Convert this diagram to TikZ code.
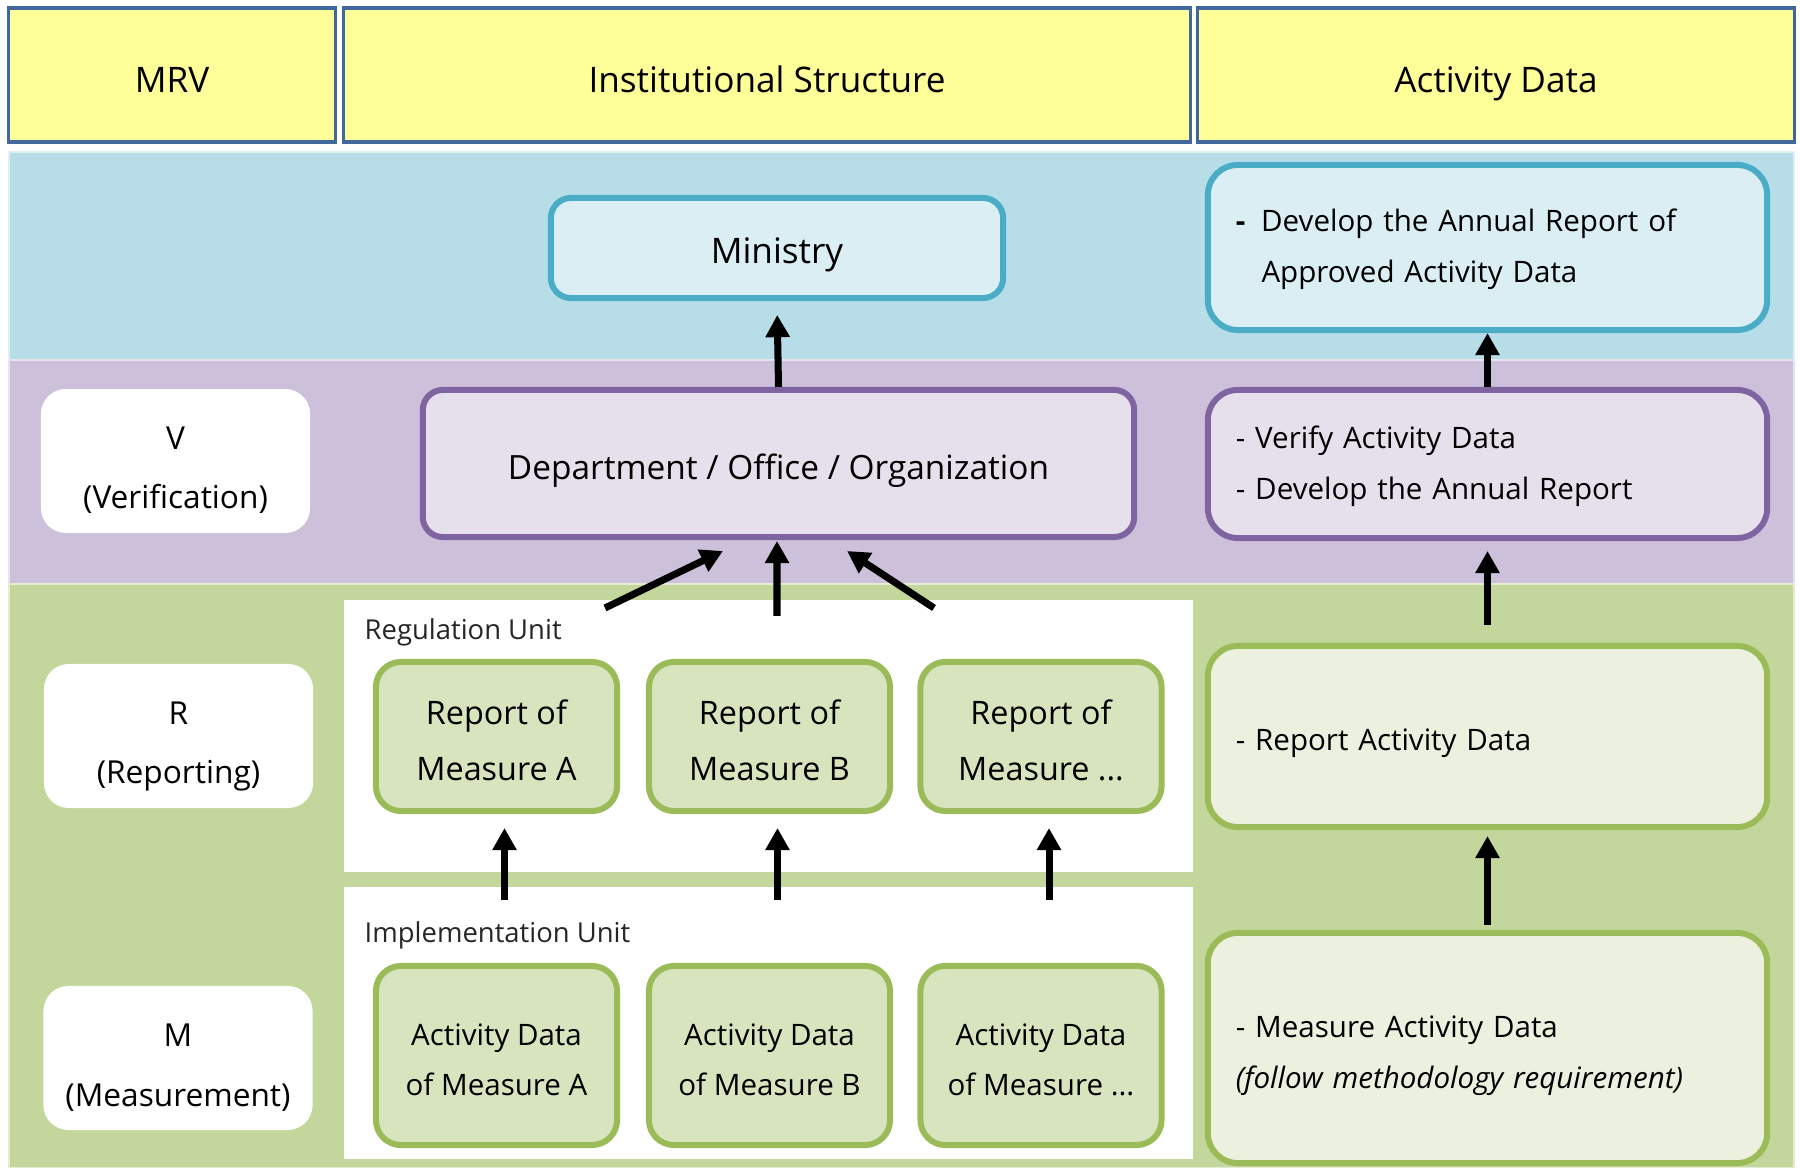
\documentclass[tikz,border=0pt]{standalone}
\usepackage{fontspec}
\setmainfont{Open Sans}
\usetikzlibrary{arrows.meta}

\definecolor{headyellow}{HTML}{FFFF99}
\definecolor{headblue}{HTML}{41689C}
\definecolor{bandblue}{HTML}{B7DDE8}
\definecolor{bandpurple}{HTML}{CCC0DA}
\definecolor{bandgreen}{HTML}{C3D69B}
\definecolor{minfill}{HTML}{DAEEF3}
\definecolor{minline}{HTML}{4BACC6}
\definecolor{deptfill}{HTML}{E5E0EC}
\definecolor{deptline}{HTML}{8064A2}
\definecolor{repfill}{HTML}{D7E4BD}
\definecolor{repline}{HTML}{9BBB59}
\definecolor{adfill}{HTML}{EBF1DE}

\tikzset{
  head/.style={draw=headblue, line width=0.9pt, fill=headyellow, minimum height=1.34cm,
    text height=10pt, text depth=0pt, font=\fontsize{10}{12}\selectfont},
  tag/.style={fill=white, rounded corners=0.25cm, minimum width=2.69cm, minimum height=1.44cm,
    align=center, text height=27.3pt, text depth=0pt, font=\fontsize{9}{16.8}\selectfont},
  bigbox/.style={rounded corners=0.2cm, line width=1.7pt, align=center,
    text height=9pt, text depth=0pt},
  panel/.style={fill=white, minimum width=8.49cm, minimum height=2.72cm},
  unitlbl/.style={anchor=west, inner sep=0pt, text=black!85, font=\fontsize{7.8}{10}\selectfont},
  repbox/.style={draw=repline, fill=repfill, line width=1.7pt, rounded corners=0.25cm,
    minimum width=2.41cm, align=center, text depth=0pt},
  adbox/.style={rounded corners=0.3cm, line width=1.7pt, minimum width=5.59cm,
    inner xsep=0.28cm, text width=5.03cm, align=left, font=\fontsize{8.4}{14.5}\selectfont},
  arr/.style={line width=2pt, -{Triangle[length=6.3pt,width=6.6pt]}}
}

\begin{document}
\begin{tikzpicture}[x=0.01cm, y=-0.01cm]
  \useasboundingbox (0,0) rectangle (1800,1168);

  % bands
  \filldraw[fill=bandblue, draw=white!55!bandblue, line width=0.8pt] (9,152) rectangle (1794,360);
  \filldraw[fill=bandpurple, draw=white!55!bandpurple, line width=0.8pt] (9,360) rectangle (1794,584);
  \filldraw[fill=bandgreen, draw=white!55!bandgreen, line width=0.8pt] (9,584) rectangle (1794,1168);

  % header row
  \node[head, minimum width=3.26cm] (mrv) at (172,75) {MRV};
  \node[head, minimum width=8.46cm] (inst) at (767,75) {Institutional Structure};
  \node[head, minimum width=5.96cm] (actd) at (1496,75) {Activity Data};

  % MRV column
  \node[tag] (ver) at (175.5,461) {V\\(Verification)};
  \node[tag] (rep) at (178.5,736) {R\\(Reporting)};
  \node[tag] (mea) at (178,1058) {M\\(Measurement)};

  % institutional structure
  \node[bigbox, draw=minline, fill=minfill, minimum width=4.52cm, minimum height=1cm,
    font=\fontsize{10}{12}\selectfont] (ministry) at (777,248) {Ministry};
  \node[bigbox, draw=deptline, fill=deptfill, minimum width=7.11cm, minimum height=1.47cm,
    font=\fontsize{9.5}{12}\selectfont] (dept) at (778.5,463.5) {Department / Office / Organization};

  \node[panel] (regpanel) at (768.5,736) {};
  \node[panel] (implpanel) at (768.5,1023) {};
  \node[unitlbl] (reglbl) at (364,632) {Regulation Unit};
  \node[unitlbl] (impllbl) at (364,935) {Implementation Unit};

  \node[repbox, minimum height=1.49cm, text height=25pt, font=\fontsize{9.2}{15.9}\selectfont] (repa) at (496.5,736.5) {Report of\\Measure A};
  \node[repbox, minimum height=1.49cm, text height=25pt, font=\fontsize{9.2}{15.9}\selectfont] (repb) at (769.5,736.5) {Report of\\Measure B};
  \node[repbox, minimum height=1.49cm, text height=25pt, font=\fontsize{9.2}{15.9}\selectfont] (repc) at (1041,736.5) {Report of\\Measure ...};
  \node[repbox, minimum height=1.79cm, text height=22.8pt, font=\fontsize{8.4}{14.2}\selectfont] (acta) at (496.5,1055.5) {Activity Data\\of Measure A};
  \node[repbox, minimum height=1.79cm, text height=22.8pt, font=\fontsize{8.4}{14.2}\selectfont] (actb) at (769.5,1055.5) {Activity Data\\of Measure B};
  \node[repbox, minimum height=1.79cm, text height=22.8pt, font=\fontsize{8.4}{14.2}\selectfont] (actc) at (1041,1055.5) {Activity Data\\of Measure ...};

  % activity data column
  \node[adbox, draw=minline, fill=minfill, minimum height=1.65cm, text height=6pt, text depth=15.1pt] (approved) at (1487.5,247.5)
    {\textbf{-}\hspace{4.5pt}Develop the Annual Report of\\\hspace*{7.3pt}Approved Activity Data};
  \node[adbox, draw=deptline, fill=deptfill, minimum height=1.48cm, text height=6pt, text depth=14.8pt] (verify) at (1487.5,464)
    {- Verify Activity Data\\- Develop the Annual Report};
  \node[adbox, draw=repline, fill=adfill, minimum height=1.81cm, text height=8pt, text depth=0pt] (reportad) at (1487.5,736.5)
    {- Report Activity Data};
  \node[adbox, draw=repline, fill=adfill, minimum height=2.3cm, text height=6pt, text depth=12pt] (measuread) at (1487.5,1048)
    {- Measure Activity Data\\\textit{(follow methodology requirement)}};

  % arrows
  \draw[arr, shorten >=0.14cm] (dept.north) -- (ministry.south);
  \coordinate (inL) at (605,608);
  \coordinate (inM) at (777,616);
  \coordinate (inR) at (934,608);
  \draw[arr] (inL) -- ([xshift=-0.555cm,yshift=-0.11cm]dept.south);
  \draw[arr] (inM) -- ([xshift=-0.015cm,yshift=-0.01cm]dept.south);
  \draw[arr] (inR) -- ([xshift=0.685cm,yshift=-0.11cm]dept.south);
  \foreach \m in {a,b,c}
    \draw[arr, shorten <=0.63cm, shorten >=0.14cm] ([xshift=0.08cm]act\m.north) -- ([xshift=0.08cm]rep\m.south);

  \draw[arr] (verify.north) -- (approved.south);
  \draw[arr, shorten <=0.18cm, shorten >=0.10cm] (reportad.north) -- (verify.south);
  \draw[arr, shorten <=0.05cm, shorten >=0.06cm] (measuread.north) -- (reportad.south);
\end{tikzpicture}
\end{document}
